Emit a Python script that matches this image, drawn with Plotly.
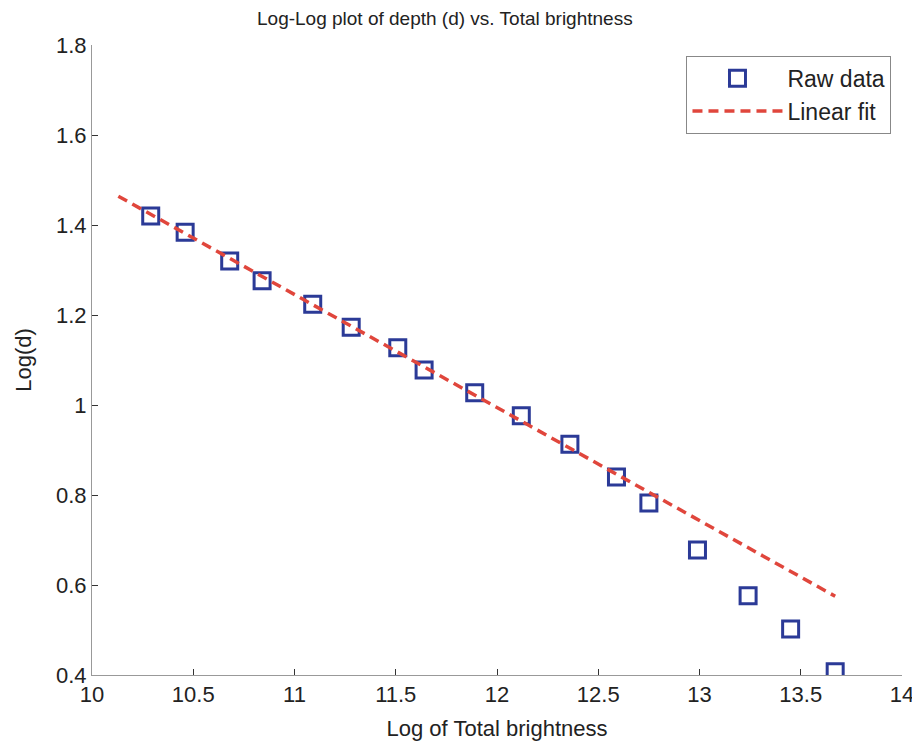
import plotly.graph_objects as go

# Data
raw_x = [10.29, 10.46, 10.68, 10.84, 11.09, 11.28, 11.51, 11.64, 11.89,
         12.12, 12.36, 12.59, 12.75, 12.99, 13.24, 13.45, 13.67]
raw_y = [1.420, 1.384, 1.320, 1.276, 1.224, 1.173, 1.127, 1.078, 1.027,
         0.976, 0.913, 0.840, 0.782, 0.678, 0.576, 0.502, 0.407]
fit_x = [10.13, 13.67]
fit_y = [1.464, 0.575]

x_ticks = [10, 10.5, 11, 11.5, 12, 12.5, 13, 13.5, 14]
x_tick_labels = ["10", "10.5", "11", "11.5", "12", "12.5", "13", "13.5", "14"]
y_ticks = [0.4, 0.6, 0.8, 1.0, 1.2, 1.4, 1.6, 1.8]
y_tick_labels = ["0.4", "0.6", "0.8", "1", "1.2", "1.4", "1.6", "1.8"]

FONT = "Liberation Sans, Arial, sans-serif"

fig = go.Figure()
fig.add_trace(go.Scatter(
    x=raw_x, y=raw_y, mode="markers", name="Raw data",
    marker=dict(symbol="square-open", size=16, color="#2b3a97",
                line=dict(width=3, color="#2b3a97")),
))
fig.add_trace(go.Scatter(
    x=fit_x, y=fit_y, mode="lines", name="Linear fit",
    line=dict(color="#e0463c", width=3.5, dash="10px,6px"),
))

fig.update_layout(
    width=912, height=738,
    margin=dict(l=84, r=18, t=37, b=71),
    paper_bgcolor="white", plot_bgcolor="white",
    font=dict(family=FONT, color="#222222", size=22),
    showlegend=True,
    legend=dict(x=0.987, y=0.983, xanchor="right", yanchor="top",
                bordercolor="#888888", borderwidth=1, bgcolor="white",
                font=dict(size=23, family=FONT), itemwidth=90,
                tracegroupgap=2),
    annotations=[dict(text="Log-Log plot of depth (d) vs. Total brightness",
                      xref="paper", yref="paper", x=(445 - 92) / 810, y=1.0,
                      xanchor="center", yanchor="bottom", yshift=14,
                      showarrow=False, font=dict(size=19, family=FONT))],
)
fig.update_xaxes(
    range=[10, 14], tickvals=x_ticks, ticktext=x_tick_labels,
    showgrid=False, zeroline=False, showline=True, linecolor="#999999",
    linewidth=1, ticks="inside", ticklen=6, tickcolor="#333333",
    automargin=False,
    tickfont=dict(size=22), title=dict(text="Log of Total brightness",
                                       font=dict(size=22), standoff=14),
)
fig.update_yaxes(
    range=[0.4, 1.8], tickvals=y_ticks, ticktext=y_tick_labels,
    showgrid=False, zeroline=False, showline=True, linecolor="#999999",
    linewidth=1, ticks="inside", ticklen=6, tickcolor="#333333",
    tickfont=dict(size=22), title=dict(text="Log(d)", font=dict(size=22),
                                       standoff=18),
)

fig.write_html("out.html")
